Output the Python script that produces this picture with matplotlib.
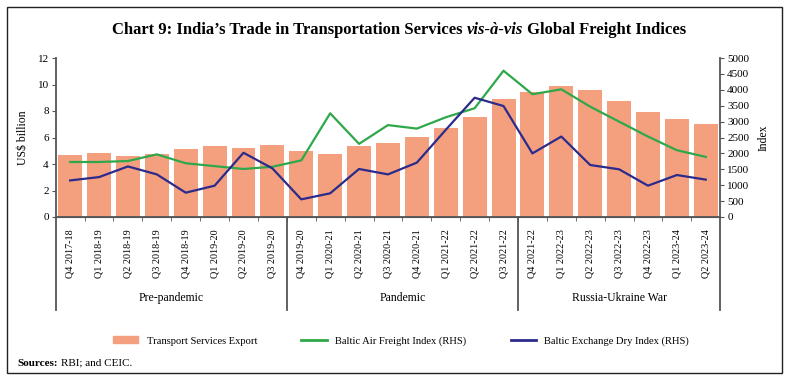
import matplotlib.pyplot as plt
from matplotlib.lines import Line2D
from matplotlib.patches import Rectangle

plt.rcParams['font.family'] = ['Liberation Serif', 'DejaVu Serif']

quarters = ['Q4 2017-18', 'Q1 2018-19', 'Q2 2018-19', 'Q3 2018-19', 'Q4 2018-19',
            'Q1 2019-20', 'Q2 2019-20', 'Q3 2019-20', 'Q4 2019-20', 'Q1 2020-21',
            'Q2 2020-21', 'Q3 2020-21', 'Q4 2020-21', 'Q1 2021-22', 'Q2 2021-22',
            'Q3 2021-22', 'Q4 2021-22', 'Q1 2022-23', 'Q2 2022-23', 'Q3 2022-23',
            'Q4 2022-23', 'Q1 2023-24', 'Q2 2023-24']

# US$ billion
transport_exports = [4.68, 4.85, 4.6, 4.75, 5.13, 5.33, 5.18, 5.43, 5.0, 4.78,
                     5.36, 5.56, 6.06, 6.74, 7.55, 8.93, 9.41, 9.89, 9.56, 8.75,
                     7.95, 7.4, 7.02]

# index (RHS)
air_freight = [1730, 1730, 1760, 1970, 1690, 1600, 1510, 1580, 1780, 3260,
               2300, 2890, 2780, 3135, 3420, 4600, 3860, 4015, 3470, 3000,
               2530, 2100, 1890]
dry_index = [1150, 1255, 1590, 1340, 765, 985, 2020, 1530, 555, 745,
             1510, 1340, 1710, 2740, 3750, 3490, 2000, 2530, 1635, 1500,
             985, 1320, 1175]

groups = ['Pre-pandemic', 'Pandemic', 'Russia-Ukraine War']
group_edges = [-0.5, 7.5, 15.5, 22.5]

bar_color = '#F4A07F'
green = '#2EA84A'
blue = '#2B2B8C'

fig = plt.figure(figsize=(7.92, 3.9), dpi=100)

# border round the whole chart
fig.patches.append(Rectangle((7 / 792, 1 - 373 / 390), 775 / 792, 366 / 390,
                             transform=fig.transFigure, fill=False,
                             edgecolor='#222222', linewidth=1.0))

ax = fig.add_axes([55.7 / 792, 1 - 217 / 390, 664.5 / 792, 159 / 390])
x = list(range(len(quarters)))
ax.bar(x, transport_exports, width=0.83, color=bar_color, zorder=1)
ax.set_xlim(-0.5, 22.5)
ax.set_ylim(0, 12)
ax.set_yticks(range(0, 13, 2))
ax.set_ylabel('US$ billion', fontsize=8.5, labelpad=6)

ax2 = ax.twinx()
ax2.plot(x, air_freight, color=green, linewidth=1.6)
ax2.plot(x, dry_index, color=blue, linewidth=1.6)
ax2.set_ylim(0, 5000)
ax2.set_yticks(range(0, 5001, 500))
ax2.set_ylabel('Index', fontsize=8.5, labelpad=6)

for a in (ax, ax2):
    a.spines['top'].set_visible(False)
    a.spines['left'].set_color('#555555')
    a.spines['right'].set_color('#555555')
    a.spines['bottom'].set_color('#555555')
    a.tick_params(axis='y', labelsize=8, length=3, color='#555555', pad=2)
ax2.spines['left'].set_visible(False)
ax.spines['right'].set_visible(False)
ax.spines['left'].set_linewidth(1.3)
ax2.spines['right'].set_linewidth(1.3)
ax.spines['bottom'].set_linewidth(1.3)

ax.set_xticks(x)
ax.set_xticklabels(quarters, rotation=90, fontsize=7.3)
ax.tick_params(axis='x', length=0, pad=9)
ax.set_xticks([i + 0.5 for i in x[:-1]], minor=True)
ax.tick_params(axis='x', which='minor', length=3, color='#555555')

# group separators and group labels below the axis
for e in group_edges:
    ax.add_line(Line2D([e, e], [0, -0.585], transform=ax.get_xaxis_transform(),
                       color='#555555', linewidth=1.3, clip_on=False))
for i, g in enumerate(groups):
    mid = (group_edges[i] + group_edges[i + 1]) / 2
    ax.text(mid, -0.51, g, transform=ax.get_xaxis_transform(),
            ha='center', va='center', fontsize=8.5)

# title in three pieces so vis-a-vis can be italic
title_parts = [("Chart 9: India\u2019s Trade in Transportation Services ", 'normal'),
               ("vis-\u00e0-vis", 'italic'),
               (" Global Freight Indices", 'normal')]
renderer = fig.canvas.get_renderer()
pieces = []
total = 0
for s, st in title_parts:
    t = fig.text(0, 1 - 30 / 390, s, fontsize=12, fontweight='bold', style=st,
                 ha='left', va='center')
    w = t.get_window_extent(renderer).width
    pieces.append((t, w))
    total += w
xpos = (792 - total) / 2 + 3
for t, w in pieces:
    t.set_x(xpos / 792)
    xpos += w

handles = [Rectangle((0, 0), 1, 1, color=bar_color),
           Line2D([], [], color=green, linewidth=2),
           Line2D([], [], color=blue, linewidth=2)]
labels = ['Transport Services Export', 'Baltic Air Freight Index (RHS)',
          'Baltic Exchange Dry Index (RHS)']
fig.legend(handles, labels, loc='center', bbox_to_anchor=(401 / 792, 1 - 341 / 390),
           ncol=3, frameon=False, fontsize=7.6, columnspacing=4.2,
           handlelength=2.4, handleheight=0.6)

fig.text(17 / 792, 1 - 363 / 390, 'Sources:', fontsize=8, fontweight='bold',
         ha='left', va='center')
fig.text(61 / 792, 1 - 363 / 390, 'RBI; and CEIC.', fontsize=8,
         ha='left', va='center')

fig.savefig('out.png', dpi=100)
